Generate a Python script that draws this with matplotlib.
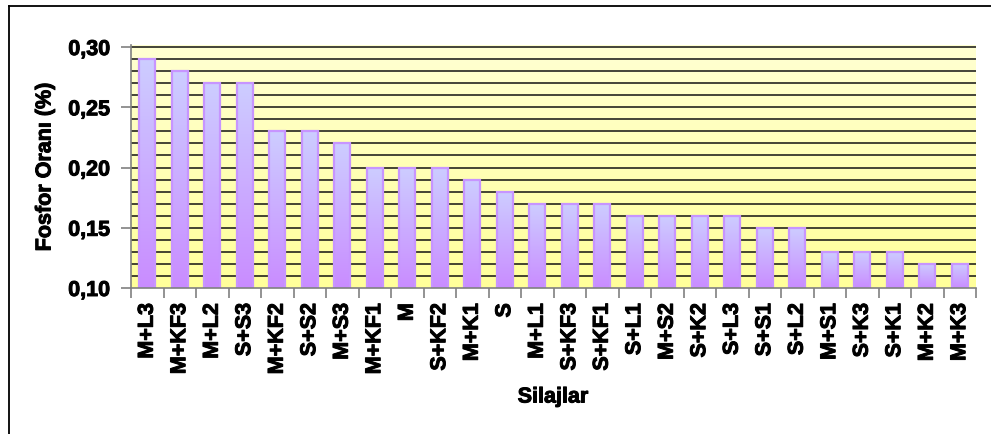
import numpy as np
import matplotlib
matplotlib.use("Agg")
import matplotlib.pyplot as plt
import matplotlib.patheffects as pe
from matplotlib.colors import LinearSegmentedColormap
from matplotlib.lines import Line2D

categories = ["M+L3", "M+KF3", "M+L2", "S+S3", "M+KF2", "S+S2", "M+S3", "M+KF1",
              "M", "S+KF2", "M+K1", "S", "M+L1", "S+KF3", "S+KF1", "S+L1", "M+S2",
              "S+K2", "S+L3", "S+S1", "S+L2", "M+S1", "S+K3", "S+K1", "M+K2", "M+K3"]
values = [0.29, 0.28, 0.27, 0.27, 0.23, 0.23, 0.22, 0.20, 0.20, 0.20, 0.19, 0.18,
          0.17, 0.17, 0.17, 0.16, 0.16, 0.16, 0.16, 0.15, 0.15, 0.13, 0.13, 0.13,
          0.12, 0.12]
ytick_labels = ["0,10", "0,15", "0,20", "0,25", "0,30"]
ytick_values = [0.10, 0.15, 0.20, 0.25, 0.30]
ylabel = "Fosfor Oranı (%)"
xlabel = "Silajlar"

plt.rcParams['font.family'] = ['Liberation Sans', 'DejaVu Sans']
plt.rcParams['font.weight'] = 'bold'
FS = 15.5
thick = [pe.withStroke(linewidth=0.7, foreground="black")]

W, H = 991, 434
fig = plt.figure(figsize=(W / 100, H / 100), dpi=100)
ax = fig.add_axes([131 / W, (H - 288) / H, (976 - 131) / W, (288 - 45) / H])

n = len(categories)
x = np.arange(n)

# background gradient
bg_cmap = LinearSegmentedColormap.from_list("bg", ["#ffff9a", "#ffffd2"])
grad = np.linspace(0, 1, 256).reshape(-1, 1)
ax.imshow(grad, cmap=bg_cmap, origin="lower", aspect="auto",
          extent=[0, 1, 0, 1], transform=ax.transAxes, zorder=0)

# gridlines
for g in np.arange(0.11, 0.3001, 0.01):
    ax.axhline(g, color="#111111", lw=1.1, zorder=1)

# bars
bars = ax.bar(x, np.array(values) - 0.10, bottom=0.10, width=0.48,
              facecolor="none", edgecolor="#c795ff", linewidth=1.6, zorder=3)
bar_cmap = LinearSegmentedColormap.from_list("bar", ["#c98cff", "#cdcdff"])
for b in bars:
    x0, y0 = b.get_x(), b.get_y()
    im = ax.imshow(grad, cmap=bar_cmap, origin="lower", aspect="auto",
                   extent=[x0, x0 + b.get_width(), y0, y0 + b.get_height()],
                   zorder=2)
    im.set_clip_path(b)
ax.set_xlim(-0.5, n - 0.5)
ax.set_ylim(0.10, 0.3017)

# spines
for s in ["top", "right"]:
    ax.spines[s].set_visible(False)
for s in ["left", "bottom"]:
    ax.spines[s].set_color("#808080")
    ax.spines[s].set_linewidth(1.2)
    ax.spines[s].set_zorder(4)

# ticks
ax.set_yticks(ytick_values)
ax.set_yticklabels(ytick_labels, fontsize=FS, fontweight="bold")
ax.set_xticks(np.arange(-0.5, n, 1.0))
ax.set_xticklabels([])
ax.set_xticks(x, minor=True)
ax.set_xticklabels(categories, minor=True, rotation=90, fontsize=FS,
                   fontweight="bold", va="top", ha="center")
ax.tick_params(axis="x", which="major", length=7, width=1.2, color="#808080", direction="out")
ax.tick_params(axis="x", which="minor", length=0, pad=11)
ax.tick_params(axis="y", which="major", length=7, width=1.2, color="#808080",
               direction="out", pad=8)
for t in ax.get_xticklabels(minor=True) + ax.get_yticklabels():
    t.set_path_effects(thick)

fig.text(45 / W, 1 - 167 / H, ylabel, rotation=90, ha="center", va="center",
         fontsize=FS, fontweight="bold", path_effects=thick)
fig.text(553 / W, 1 - 397 / H, xlabel, ha="center", va="center",
         fontsize=FS, fontweight="bold", path_effects=thick)

# outer frame (top and left edges)
fig.add_artist(Line2D([8.5 / W, 1.0], [1 - 5.5 / H, 1 - 5.5 / H],
                      transform=fig.transFigure, color="black", lw=1.3))
fig.add_artist(Line2D([8.5 / W, 8.5 / W], [0, 1 - 5.5 / H],
                      transform=fig.transFigure, color="black", lw=1.3))

fig.savefig("out.png", dpi=100)
